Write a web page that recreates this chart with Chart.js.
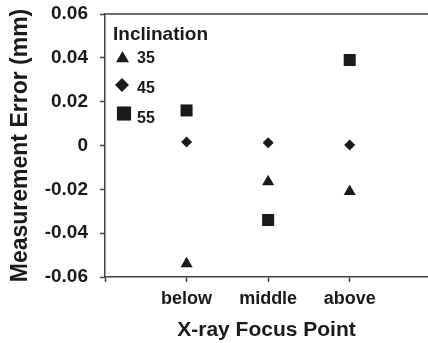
<!DOCTYPE html>
<html><head><meta charset="utf-8">
<script src="https://cdn.jsdelivr.net/npm/chart.js@4"></script>
<style>html,body{margin:0;padding:0;background:#fff}#wrap{width:428px;height:343px}</style>
</head><body><div id="wrap"><canvas id="c" width="428" height="343"></canvas></div>
<script>
const categories = ['below', 'middle', 'above'];
const seriesNames = ['35', '45', '55'];
const incl35 = [-0.054, -0.0165, -0.021];
const incl45 = [0.0016, 0.0012, 0.0002];
const incl55 = [0.016, -0.034, 0.039];
const yTickValues = [-0.06, -0.04, -0.02, 0, 0.02, 0.04, 0.06];
const yTickLabels = ['-0.06', '-0.04', '-0.02', '0', '0.02', '0.04', '0.06'];
const yTitle = 'Measurement Error (mm)';
const xTitle = 'X-ray Focus Point';
const legendTitle = 'Inclination';

const FONT = '"Liberation Sans", Arial, Helvetica, sans-serif';
const INK = '#1a1a1a';
const AXIS = '#404040';

const styles = [
  {pointStyle: 'triangle', radius: 7, legendRadius: 7.5},
  {pointStyle: 'rectRot', radius: 5.5, legendRadius: 7},
  {pointStyle: 'rect', radius: 8.5, legendRadius: 10}
];
const allSeries = [incl35, incl45, incl55];

const datasets = allSeries.map((vals, si) => ({
  label: seriesNames[si],
  data: vals.map((v, i) => ({x: i + 1, y: v})),
  pointStyle: styles[si].pointStyle,
  pointRadius: styles[si].radius,
  pointBackgroundColor: INK,
  pointBorderColor: INK,
  pointBorderWidth: 0,
  showLine: false
}));

const topBorder = {
  id: 'topBorder',
  afterDraw(chart) {
    const {ctx, chartArea} = chart;
    ctx.save();
    ctx.strokeStyle = AXIS;
    ctx.lineWidth = 1.5;
    ctx.beginPath();
    ctx.moveTo(chartArea.left, chartArea.top);
    ctx.lineTo(chartArea.right, chartArea.top);
    ctx.stroke();
    ctx.restore();
  }
};

const customLegend = {
  id: 'customLegend',
  afterDraw(chart) {
    const {ctx} = chart;
    ctx.save();
    ctx.fillStyle = INK;
    ctx.textAlign = 'left';
    ctx.textBaseline = 'alphabetic';
    ctx.font = 'bold 19px ' + FONT;
    ctx.fillText(legendTitle, 113, 40);
    const markerY = [58.4, 85, 113.5];
    const markerX = [122.5, 122, 124];
    const textY = [62.7, 93, 122.7];
    ctx.font = 'bold 16px ' + FONT;
    seriesNames.forEach((name, i) => {
      ctx.fillStyle = INK;
      Chart.helpers.drawPoint(ctx, {pointStyle: styles[i].pointStyle, radius: styles[i].legendRadius, rotation: 0, borderWidth: 0}, markerX[i], markerY[i]);
      ctx.fillStyle = INK;
      ctx.fillText(name, 137, textY[i]);
    });
    ctx.restore();
  }
};

function zeroPad(scale) {
  scale.paddingTop = 0; scale.paddingBottom = 0; scale.paddingLeft = 0; scale.paddingRight = 0;
}

new Chart(document.getElementById('c'), {
  type: 'scatter',
  data: {datasets},
  options: {
    responsive: false,
    animation: false,
    devicePixelRatio: 1,
    layout: {autoPadding: false, padding: {top: 14, right: 0, bottom: 0, left: 0}},
    plugins: {legend: {display: false}, tooltip: {enabled: false}},
    scales: {
      x: {
        type: 'linear',
        min: 0,
        max: 3.96,
        afterFit(scale) { scale.height = 66; zeroPad(scale); },
        afterBuildTicks(scale) { scale.ticks = [0, 1, 2, 3].map(v => ({value: v})); },
        ticks: {
          color: INK,
          font: {family: FONT, size: 18, weight: 'bold'},
          padding: 6,
          maxRotation: 0,
          callback: (v) => (v >= 1 && v <= categories.length) ? categories[v - 1] : ''
        },
        grid: {drawOnChartArea: false, drawTicks: true, tickLength: 5, color: AXIS, tickWidth: 1.5},
        border: {display: true, color: AXIS, width: 1.5},
        title: {display: true, text: xTitle, color: INK, font: {family: FONT, size: 21, weight: 'bold'}, padding: {top: 0, bottom: 0}}
      },
      y: {
        type: 'linear',
        min: -0.06,
        max: 0.06,
        afterFit(scale) { scale.width = 105; zeroPad(scale); },
        afterBuildTicks(scale) { scale.ticks = yTickValues.map(v => ({value: v})); },
        ticks: {
          color: INK,
          font: {family: FONT, size: 19, weight: 'bold'},
          padding: 12,
          callback: (v) => { const i = yTickValues.findIndex(t => Math.abs(t - v) < 1e-9); return i >= 0 ? yTickLabels[i] : ''; }
        },
        grid: {drawOnChartArea: false, drawTicks: true, tickLength: 5, color: AXIS, tickWidth: 1.5},
        border: {display: true, color: AXIS, width: 1.5},
        title: {display: true, text: yTitle, color: INK, font: {family: FONT, size: 23, weight: 'bold'}, padding: {top: 7, bottom: 0}}
      }
    }
  },
  plugins: [topBorder, customLegend]
});
</script>
</body></html>
